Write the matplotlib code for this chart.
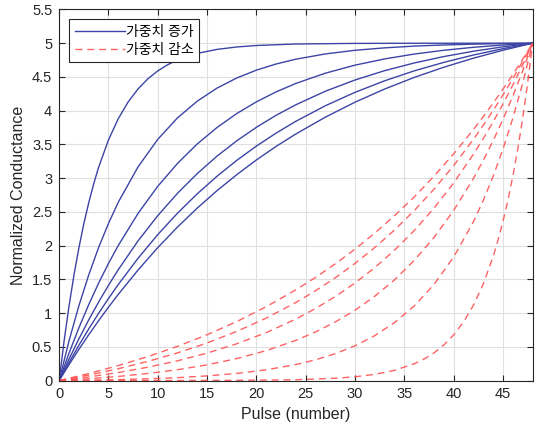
import matplotlib
matplotlib.use("Agg")
import matplotlib.pyplot as plt

plt.rcParams['font.family'] = ['Liberation Sans', 'Noto Sans CJK KR', 'DejaVu Sans']

# pulse positions read for the increasing (blue) curves
pulse_up = [0, 1, 2, 3, 4, 5, 6, 8, 10, 12, 14, 16, 18, 20, 22, 24, 27, 30, 33, 36, 39, 42, 45, 48]
# the steepest curve was read at closer steps
pulse_up1 = [0, 0.5, 1, 1.5, 2, 2.5, 3, 3.5, 4, 5, 6, 7, 8, 9, 10, 11, 12, 14, 16, 18, 20, 24, 30, 36, 42, 48]

up1 = [0, 0.588, 1.106, 1.564, 1.967, 2.324, 2.638, 2.916, 3.161, 3.567, 3.884, 4.131, 4.323, 4.473,
       4.590, 4.681, 4.751, 4.849, 4.908, 4.944, 4.966, 4.988, 4.997, 4.999, 5.0, 5.0]
up2 = [0, 0.589, 1.109, 1.567, 1.972, 2.329, 2.645, 3.168, 3.576, 3.894, 4.141, 4.334, 4.484, 4.601,
       4.692, 4.763, 4.841, 4.895, 4.931, 4.957, 4.974, 4.986, 4.994, 5.0]
up3 = [0, 0.407, 0.782, 1.127, 1.444, 1.736, 2.004, 2.478, 2.880, 3.219, 3.507, 3.750, 3.957, 4.131,
       4.279, 4.404, 4.556, 4.675, 4.767, 4.839, 4.895, 4.939, 4.973, 5.0]
up4 = [0, 0.319, 0.618, 0.900, 1.164, 1.412, 1.645, 2.071, 2.445, 2.776, 3.068, 3.326, 3.553, 3.754,
       3.932, 4.088, 4.289, 4.455, 4.593, 4.707, 4.802, 4.881, 4.946, 5.0]
up5 = [0, 0.268, 0.523, 0.766, 0.997, 1.216, 1.425, 1.813, 2.164, 2.481, 2.768, 3.028, 3.263, 3.476,
       3.668, 3.843, 4.074, 4.272, 4.443, 4.590, 4.716, 4.825, 4.919, 5.0]
up6 = [0, 0.236, 0.463, 0.680, 0.888, 1.088, 1.279, 1.639, 1.971, 2.276, 2.556, 2.814, 3.051, 3.270,
       3.471, 3.655, 3.905, 4.126, 4.321, 4.493, 4.644, 4.778, 4.896, 5.0]

# pulse positions read for the decreasing (red) curves
pulse_dn = [0, 3, 6, 9, 12, 15, 18, 21, 24, 26, 28, 30, 32, 34, 36, 38, 40, 42, 43, 44, 45, 46, 47, 48]
pulse_dn1 = [0, 6, 12, 18, 24, 28, 30, 32, 34, 36, 37, 38, 39, 40, 41, 42, 43, 44, 44.5, 45, 45.5,
             46, 46.5, 47, 47.5, 48]

dn1 = [0, 0, 0.001, 0.003, 0.012, 0.034, 0.056, 0.092, 0.151, 0.249, 0.319, 0.410, 0.527, 0.677,
       0.869, 1.116, 1.433, 1.839, 2.084, 2.362, 2.676, 3.033, 3.436, 3.894, 4.412, 5.0]
dn2 = [0, 0.006, 0.014, 0.026, 0.043, 0.069, 0.105, 0.159, 0.237, 0.308, 0.399, 0.516, 0.666, 0.859,
       1.106, 1.424, 1.832, 2.355, 2.671, 3.028, 3.433, 3.891, 4.411, 5.0]
dn3 = [0, 0.027, 0.061, 0.105, 0.161, 0.233, 0.325, 0.444, 0.596, 0.721, 0.869, 1.043, 1.250, 1.493,
       1.781, 2.120, 2.522, 2.996, 3.264, 3.556, 3.873, 4.218, 4.593, 5.0]
dn4 = [0, 0.054, 0.119, 0.198, 0.293, 0.407, 0.545, 0.711, 0.912, 1.068, 1.246, 1.447, 1.674, 1.932,
       2.224, 2.555, 2.929, 3.355, 3.588, 3.836, 4.100, 4.382, 4.681, 5.0]
dn5 = [0, 0.081, 0.175, 0.284, 0.410, 0.557, 0.728, 0.926, 1.157, 1.332, 1.524, 1.737, 1.972, 2.232,
       2.519, 2.836, 3.187, 3.575, 3.784, 4.003, 4.234, 4.477, 4.732, 5.0]
dn6 = [0, 0.104, 0.222, 0.356, 0.507, 0.679, 0.874, 1.095, 1.345, 1.529, 1.730, 1.949, 2.186, 2.444,
       2.721, 3.029, 3.361, 3.721, 3.912, 4.112, 4.320, 4.537, 4.764, 5.0]

up_curves = [(pulse_up1, up1), (pulse_up, up2), (pulse_up, up3), (pulse_up, up4), (pulse_up, up5), (pulse_up, up6)]
dn_curves = [(pulse_dn1, dn1), (pulse_dn, dn2), (pulse_dn, dn3), (pulse_dn, dn4), (pulse_dn, dn5), (pulse_dn, dn6)]
labels = ['가중치 증가', '가중치 감소']

fig = plt.figure(figsize=(5.38, 4.30), dpi=100)
ax = fig.add_axes([0.110, 0.115, 0.880, 0.863])

blue = '#3c44a6'
red = '#ff5252'

for i, (px, c) in enumerate(up_curves):
    ax.plot(px, c, color=blue, lw=1.0, label=labels[0] if i == 0 else None)
for i, (px, c) in enumerate(dn_curves):
    ax.plot(px, c, color=red, lw=1.0, ls=(0, (5, 3.5)), alpha=0.9,
            label=labels[1] if i == 0 else None)

ax.set_xlim(0, 48)
ax.set_ylim(0, 5.5)
ax.set_xticks(range(0, 46, 5))
ax.set_yticks([0, 0.5, 1, 1.5, 2, 2.5, 3, 3.5, 4, 4.5, 5, 5.5])
ax.set_yticklabels(['0', '0.5', '1', '1.5', '2', '2.5', '3', '3.5', '4', '4.5', '5', '5.5'])
ax.grid(True, color='#e0e0e0', lw=0.8)
ax.set_axisbelow(True)
ax.tick_params(direction='in', top=True, right=True, labelsize=10.5, colors='#262626',
               length=4, width=0.8, pad=5)
for s in ax.spines.values():
    s.set_color('#262626')
    s.set_linewidth(0.8)

ax.set_xlabel('Pulse (number)', fontsize=11.5, color='#262626', labelpad=4)
ax.set_ylabel('Normalized Conductance', fontsize=11.5, color='#262626', labelpad=4)

leg = ax.legend(loc='upper left', bbox_to_anchor=(0.012, 0.985), fontsize=10,
                handlelength=3.6, handletextpad=0.1, borderpad=0.4, labelspacing=0.3,
                fancybox=False, framealpha=1, edgecolor='#262626', borderaxespad=0.3)
leg.get_frame().set_linewidth(0.8)

fig.savefig('out.png', dpi=100)
